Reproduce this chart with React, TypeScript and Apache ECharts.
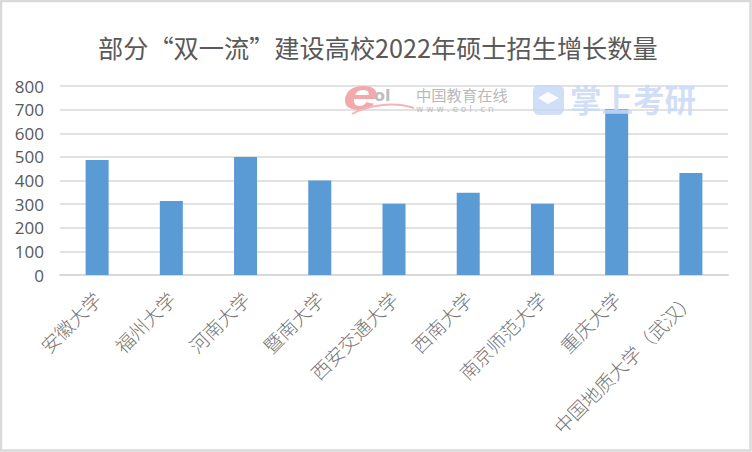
import React, { useEffect, useRef } from "react";
import * as echarts from "echarts";

const titleText = "部分“双一流”建设高校2022年硕士招生增长数量";
const categories = ["安徽大学", "福州大学", "河南大学", "暨南大学", "西安交通大学", "西南大学", "南京师范大学", "重庆大学", "中国地质大学（武汉）"];
const values = [487, 313, 500, 400, 302, 348, 302, 702, 432];
const cjk = '"Noto Sans CJK SC", sans-serif';

export default function App() {
  const ref = useRef<HTMLDivElement>(null);
  useEffect(() => {
    document.body.style.margin = "0";
    const chart = echarts.init(ref.current!, null, { renderer: "svg" });
    chart.setOption({
      animation: false,
      backgroundColor: "#ffffff",
      title: {
        text: titleText,
        left: 93,
        top: 29,
        textStyle: { fontFamily: cjk, fontSize: 25.2, fontWeight: "normal", color: "#595959" },
      },
      grid: { left: 60, right: 24, top: 86, bottom: 177 },
      xAxis: {
        type: "category",
        data: categories,
        axisTick: { show: false },
        axisLine: { lineStyle: { color: "#d9d9d9", width: 2 } },
        axisLabel: {
          rotate: 45,
          interval: 0,
          margin: 20,
          fontFamily: cjk,
          fontSize: 19,
          fontWeight: 300,
          color: "#757575",
        },
      },
      yAxis: {
        type: "value",
        min: 0,
        max: 800,
        interval: 100,
        axisLine: { show: false },
        axisTick: { show: false },
        splitLine: { lineStyle: { color: "#d9d9d9", width: 1.5 } },
        axisLabel: { margin: 16, fontFamily: '"Open Sans", sans-serif', fontSize: 17, color: "#595959" },
      },
      series: [
        {
          type: "bar",
          data: values,
          barWidth: 23,
          itemStyle: { color: "#5b9bd5" },
        },
      ],
      graphic: [
        { type: "rect", shape: { x: 1, y: 1, width: 749.5, height: 449.5 }, style: { fill: "none", stroke: "#d9d9d9", lineWidth: 2.5 }, z: 10 },
        { type: "text", x: 343, y: 73, scaleX: 1.45, style: { text: "e", fontFamily: '"Liberation Sans", sans-serif', fontStyle: "italic", fontWeight: "bold", fontSize: 44, fill: "#f3a9ab" }, z: 10 },
        { type: "text", x: 374, y: 87, style: { text: "ol", fontFamily: '"DejaVu Sans", sans-serif', fontSize: 16, fontWeight: "bold", fill: "#bdbdbd" }, z: 11 },
        { type: "bezierCurve", shape: { x1: 352, y1: 114, cpx1: 370, cpy1: 104, cpx2: 395, cpy2: 102, x2: 414, y2: 108 }, style: { fill: "none", stroke: "#f3b5b7", lineWidth: 2 }, z: 11 },
        { type: "text", x: 416, y: 86, style: { text: "中国教育在线", fontFamily: cjk, fontSize: 15.3, fill: "#b9b9b9" }, z: 11 },
        { type: "text", x: 416, y: 104, style: { text: "w w w . e o l . c n", fontFamily: '"DejaVu Sans", sans-serif', fontSize: 9, fill: "#bdbdbd" }, z: 11 },
        { type: "rect", shape: { x: 533, y: 85, width: 31, height: 30, r: 6 }, style: { fill: "#c4d6f5", opacity: 0.8 }, z: 11 },
        { type: "polygon", shape: { points: [[548, 92], [559, 98], [548, 104], [538, 98]] }, style: { fill: "#ffffff", opacity: 0.9 }, z: 12 },
        { type: "text", x: 570, y: 82, style: { text: "掌上考研", fontFamily: cjk, fontSize: 31.5, fontWeight: "bold", fill: "#c9d9f5", opacity: 0.85 }, z: 11 },
      ],
    });
    return () => chart.dispose();
  }, []);
  return <div ref={ref} style={{ width: 752, height: 452 }} />;
}
